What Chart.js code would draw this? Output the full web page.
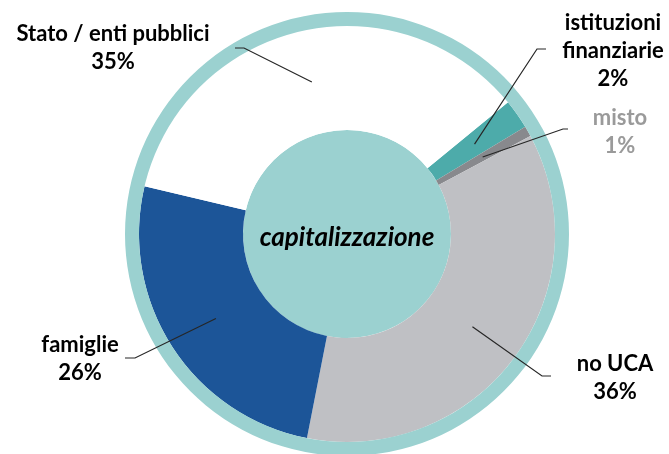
<!DOCTYPE html>
<html>
<head>
<meta charset="utf-8">
<script src="https://cdn.jsdelivr.net/npm/chart.js@4.4.1/dist/chart.umd.min.js"></script>
<style>
  html, body { margin: 0; padding: 0; background: #fff; }
  #wrap { width: 669px; height: 454px; overflow: hidden; position: relative; }
  canvas { display: block; }
</style>
</head>
<body>
<div id="wrap"><canvas id="pie" width="669" height="460"></canvas></div>
<script>
// ── DATA ──────────────────────────────────────────────
const categories  = [['istituzioni', 'finanziarie'], ['misto'], ['no UCA'], ['famiglie'], ['Stato / enti pubblici']];
const shares      = [2.3, 0.8, 35.9, 25.6, 35.4];
const centerTitle = 'capitalizzazione';

// ── STYLE / LAYOUT ────────────────────────────────────
const TEAL_LIGHT  = '#9bd1d0';
const sliceColors = ['#4dabaa', '#88898d', '#bfc0c4', '#1c5598', '#ffffff'];
const textColors  = ['#000000', '#9a9a9a', '#000000', '#000000', '#000000'];
// text centre (x, first line y) + leader elbow / end
const labelPos = [
  { x: 613, y: 23,  elbow: [537, 49],  end: [546, 49]  },
  { x: 620, y: 118, elbow: [563, 129], end: [568, 129] },
  { x: 615, y: 364, elbow: [542, 376], end: [551, 376] },
  { x: 80,  y: 345, elbow: [135, 358], end: [125, 358] },
  { x: 113, y: 34,  elbow: [244, 48],  end: [235, 48]  },
];
const LINE_H = 28;
const FONT   = 'Lato, "Open Sans", sans-serif';

const labelsPlugin = {
  id: 'labels',
  afterDraw(chart) {
    const ctx  = chart.ctx;
    const meta = chart.getDatasetMeta(1);
    ctx.save();
    // leader lines
    ctx.strokeStyle = '#262626';
    ctx.lineWidth = 1.2;
    meta.data.forEach((arc, i) => {
      const p = arc.getCenterPoint();
      const L = labelPos[i];
      ctx.beginPath();
      ctx.moveTo(p.x, p.y);
      ctx.lineTo(L.elbow[0], L.elbow[1]);
      ctx.lineTo(L.end[0], L.end[1]);
      ctx.stroke();
    });
    // label text
    ctx.textAlign = 'center';
    ctx.textBaseline = 'middle';
    ctx.font = `bold 22px ${FONT}`;
    categories.forEach((lines, i) => {
      const L = labelPos[i];
      ctx.fillStyle = textColors[i];
      lines.forEach((t, j) => ctx.fillText(t, L.x, L.y + j * LINE_H));
      ctx.fillText(Math.round(shares[i]) + '%', L.x, L.y + lines.length * LINE_H);
    });
    // centre title
    const c = meta.data[0];
    ctx.fillStyle = '#000';
    ctx.font = `italic bold 26px ${FONT}`;
    ctx.fillText(centerTitle, c.x, c.y + 4);
    ctx.restore();
  }
};

new Chart(document.getElementById('pie'), {
  type: 'pie',
  data: {
    labels: categories.map(l => l.join(' ')),
    datasets: [
      { data: [1], backgroundColor: [TEAL_LIGHT], weight: 14 },
      { data: shares, backgroundColor: sliceColors, weight: 104 },
      { data: [1], backgroundColor: [TEAL_LIGHT], weight: 104 },
    ],
  },
  options: {
    responsive: false,
    animation: false,
    devicePixelRatio: 1,
    rotation: 50.7,
    borderWidth: 0,
    hoverOffset: 0,
    layout: { padding: { left: 125, right: 100, top: 12, bottom: 4 } },
    plugins: { legend: { display: false }, tooltip: { enabled: false } },
    events: [],
  },
  plugins: [labelsPlugin],
});
</script>
</body>
</html>
